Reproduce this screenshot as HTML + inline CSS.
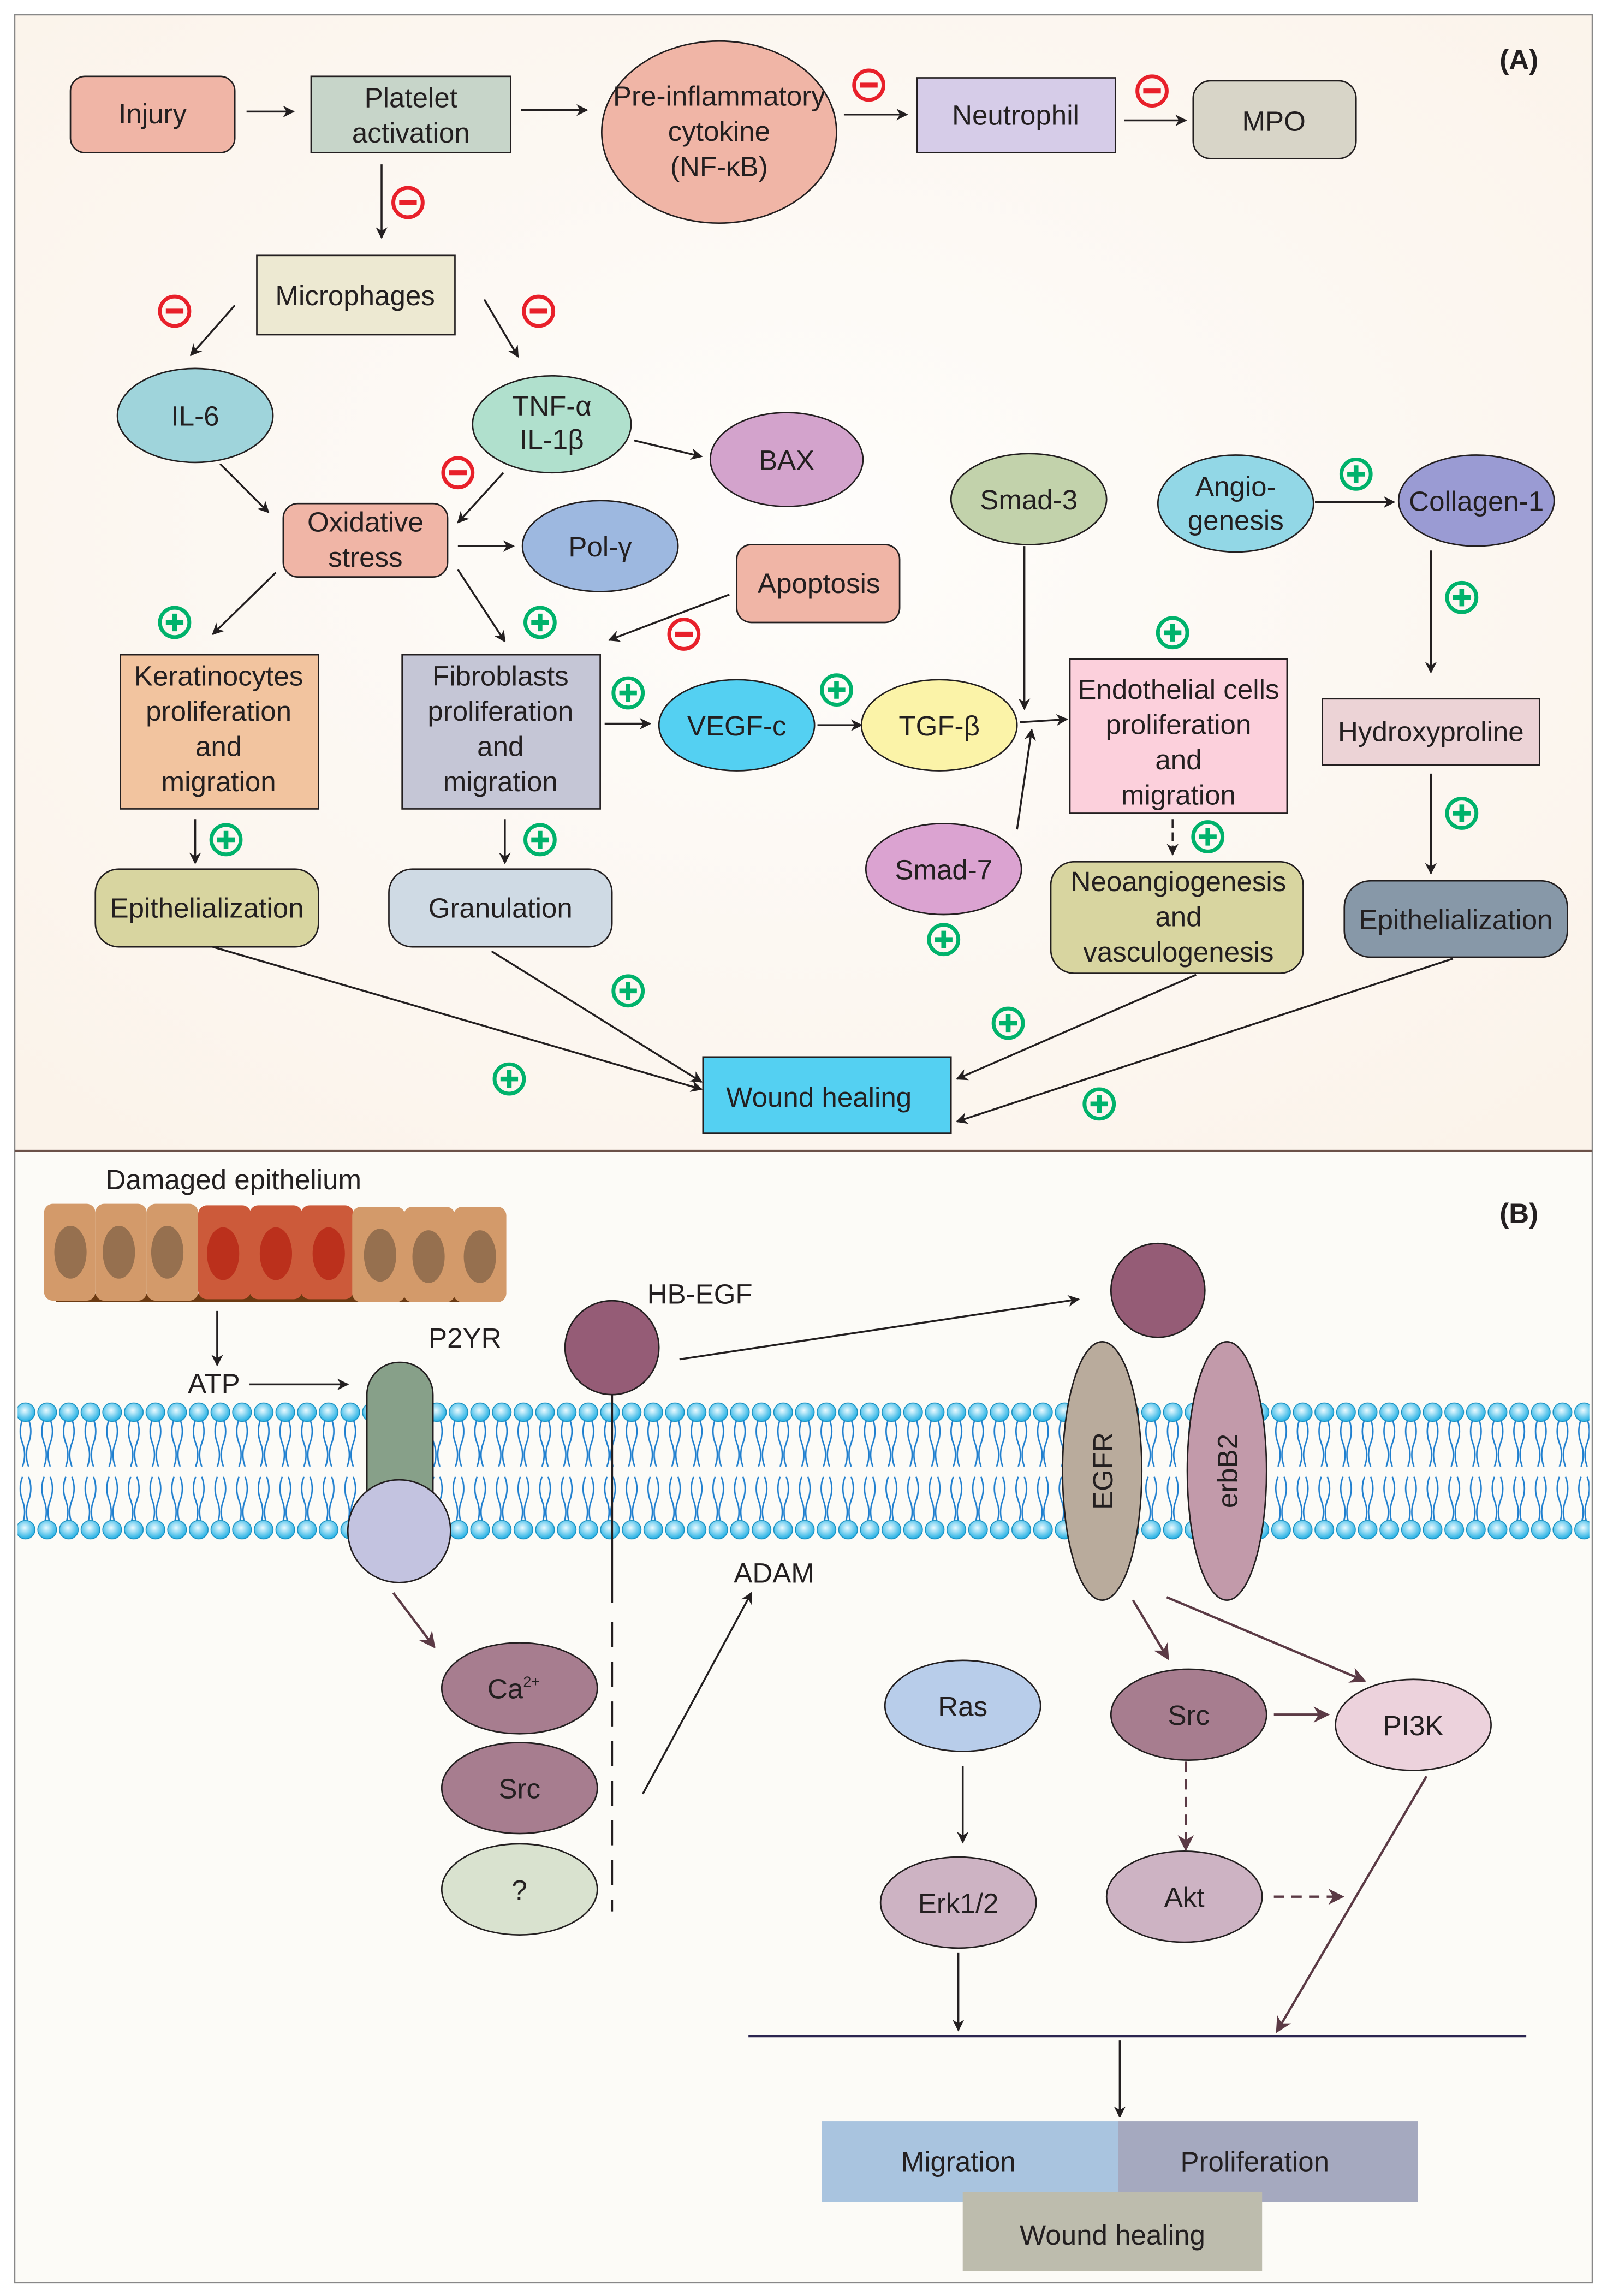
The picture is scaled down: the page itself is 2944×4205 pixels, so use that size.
<!DOCTYPE html>
<html><head><meta charset="utf-8"><style>
html,body{margin:0;padding:0;background:#fff;}
svg{display:block;}
text{font-family:"Liberation Sans",sans-serif;fill:#231f20;}
</style></head><body>
<svg width="2944" height="4205" viewBox="0 0 1095 1564" preserveAspectRatio="none" xmlns="http://www.w3.org/2000/svg">
<defs>
<marker id="ah" viewBox="0 0 10 10" refX="9" refY="5" markerWidth="8" markerHeight="8" markerUnits="userSpaceOnUse" orient="auto"><path d="M0,0 L10,5 L0,10 L3,5 z" fill="#231f20"/></marker>
<marker id="ab" viewBox="0 0 10 10" refX="9" refY="5" markerWidth="11" markerHeight="11" markerUnits="userSpaceOnUse" orient="auto"><path d="M0,0 L10,5 L0,10 L3,5 z" fill="#5b3a45"/></marker>
<radialGradient id="hg" cx="0.45" cy="0.4" r="0.6"><stop offset="0" stop-color="#eafaff"/><stop offset="1" stop-color="#22b0e4"/></radialGradient>
<radialGradient id="bgA" cx="0.5" cy="0.45" r="0.7"><stop offset="0" stop-color="#fefdfb"/><stop offset="1" stop-color="#fbf3ea"/></radialGradient>
<pattern id="mem" x="10" y="950" width="14.75" height="106" patternUnits="userSpaceOnUse">
<path d="M5.3,17 q-3,8 0,16 q3,8 0,16 M9.5,17 q3,8 0,16 q-3,8 0,16 M5.3,56 q-3,8 0,16 q3,8 0,16 M9.5,56 q3,8 0,16 q-3,8 0,16" fill="none" stroke="#1f7fcf" stroke-width="1"/>
<ellipse cx="7.4" cy="12" rx="6.4" ry="6.3" fill="url(#hg)" stroke="#178fc0" stroke-width="0.6"/>
<ellipse cx="7.4" cy="92" rx="6.4" ry="6.3" fill="url(#hg)" stroke="#178fc0" stroke-width="0.6"/>
</pattern>
<g id="plus"><circle r="10" fill="none" stroke="#00b26b" stroke-width="2.6"/><path d="M-6,0 H6 M0,-6 V6" stroke="#00b26b" stroke-width="3.2"/></g>
<g id="minus"><circle r="10" fill="none" stroke="#e8202a" stroke-width="2.6"/><path d="M-6,0 H6" stroke="#e8202a" stroke-width="3.4"/></g>
</defs>

<rect x="0" y="0" width="1095" height="1564" fill="#fff"/>
<rect x="10" y="10" width="1075" height="774" fill="url(#bgA)"/>
<rect x="10" y="784" width="1075" height="771" fill="#fcfbf7"/>
<rect x="10" y="10" width="1075" height="1545" fill="none" stroke="#888" stroke-width="1"/>
<line x1="10" y1="784" x2="1085" y2="784" stroke="#6b5148" stroke-width="1.5"/>

<g font-size="19">
<text x="1035" y="47" font-weight="bold" text-anchor="middle">(A)</text>

<g stroke="#231f20" stroke-width="1" text-anchor="middle">
<rect x="48" y="52" width="112" height="52" rx="10" fill="#f0b5a6"/>
<rect x="212" y="52" width="136" height="52" fill="#c7d5c9"/>
<ellipse cx="490" cy="90" rx="80" ry="62" fill="#f0b5a6"/>
<rect x="625" y="53" width="135" height="51" fill="#d6cce8"/>
<rect x="813" y="55" width="111" height="53" rx="12" fill="#d8d5c8"/>
<rect x="175" y="174" width="135" height="54" fill="#ede9d2"/>
<ellipse cx="133" cy="283" rx="53" ry="32" fill="#9fd4db"/>
<ellipse cx="376" cy="289" rx="54" ry="33" fill="#b0e0cd"/>
<ellipse cx="536" cy="313" rx="52" ry="32" fill="#d3a3cc"/>
<rect x="193" y="343" width="112" height="50" rx="10" fill="#f0b5a6"/>
<ellipse cx="409" cy="372" rx="53" ry="31" fill="#9db8e0"/>
<rect x="502" y="371" width="111" height="53" rx="10" fill="#f0b5a6"/>
<rect x="82" y="446" width="135" height="105" fill="#f2c49f"/>
<rect x="274" y="446" width="135" height="105" fill="#c5c6d6"/>
<ellipse cx="502" cy="494" rx="53" ry="31" fill="#54d0f2"/>
<ellipse cx="640" cy="494" rx="53" ry="31" fill="#fbf3a8"/>
<rect x="729" y="449" width="148" height="105" fill="#fcd0dc"/>
<ellipse cx="701" cy="340" rx="53" ry="31" fill="#c2d2ab"/>
<ellipse cx="643" cy="592" rx="53" ry="31" fill="#dba3d1"/>
<ellipse cx="842" cy="343" rx="53" ry="33" fill="#92d7e6"/>
<ellipse cx="1006" cy="341" rx="53" ry="31" fill="#9a9bd3"/>
<rect x="901" y="476" width="148" height="45" fill="#ecd3d6"/>
<rect x="916" y="600" width="152" height="52" rx="18" fill="#8798a8"/>
<rect x="65" y="592" width="152" height="53" rx="16" fill="#d8d5a0"/>
<rect x="265" y="592" width="152" height="53" rx="16" fill="#cfdae4"/>
<rect x="716" y="587" width="172" height="76" rx="16" fill="#d8d5a0"/>
<rect x="479" y="720" width="169" height="52" fill="#54d0f2"/>
</g>

<g text-anchor="middle">
<text x="104" y="84">Injury</text>
<text x="280" y="73">Platelet</text><text x="280" y="97">activation</text>
<text x="490" y="72">Pre-inflammatory</text><text x="490" y="96">cytokine</text><text x="490" y="120">(NF-κB)</text>
<text x="692" y="85">Neutrophil</text>
<text x="868" y="89">MPO</text>
<text x="242" y="208">Microphages</text>
<text x="133" y="290">IL-6</text>
<text x="376" y="283">TNF-α</text><text x="376" y="306">IL-1β</text>
<text x="536" y="320">BAX</text>
<text x="249" y="362">Oxidative</text><text x="249" y="386">stress</text>
<text x="409" y="379">Pol-γ</text>
<text x="558" y="404">Apoptosis</text>
<text x="149" y="467">Keratinocytes</text><text x="149" y="491">proliferation</text><text x="149" y="515">and</text><text x="149" y="539">migration</text>
<text x="341" y="467">Fibroblasts</text><text x="341" y="491">proliferation</text><text x="341" y="515">and</text><text x="341" y="539">migration</text>
<text x="502" y="501">VEGF-c</text>
<text x="640" y="501">TGF-β</text>
<text x="803" y="476">Endothelial cells</text><text x="803" y="500">proliferation</text><text x="803" y="524">and</text><text x="803" y="548">migration</text>
<text x="701" y="347">Smad-3</text>
<text x="643" y="599">Smad-7</text>
<text x="842" y="338">Angio-</text><text x="842" y="361">genesis</text>
<text x="1006" y="348">Collagen-1</text>
<text x="975" y="505">Hydroxyproline</text>
<text x="992" y="633">Epithelialization</text>
<text x="141" y="625">Epithelialization</text>
<text x="341" y="625">Granulation</text>
<text x="803" y="607">Neoangiogenesis</text><text x="803" y="631">and</text><text x="803" y="655">vasculogenesis</text>
<text x="558" y="754">Wound healing</text>
</g>

<g stroke="#231f20" stroke-width="1.3" fill="none" marker-end="url(#ah)">
<line x1="168" y1="76" x2="200" y2="76"/>
<line x1="355" y1="75" x2="400" y2="75"/>
<line x1="575" y1="78" x2="618" y2="78"/>
<line x1="766" y1="82" x2="808" y2="82"/>
<line x1="260" y1="112" x2="260" y2="162"/>
<line x1="160" y1="208" x2="130" y2="242"/>
<line x1="330" y1="204" x2="353" y2="243"/>
<line x1="432" y1="300" x2="478" y2="311"/>
<line x1="343" y1="322" x2="312" y2="356"/>
<line x1="150" y1="316" x2="183" y2="349"/>
<line x1="312" y1="372" x2="350" y2="372"/>
<line x1="188" y1="390" x2="145" y2="432"/>
<line x1="312" y1="388" x2="344" y2="437"/>
<line x1="497" y1="405" x2="415" y2="436"/>
<line x1="412" y1="493" x2="443" y2="493"/>
<line x1="557" y1="494" x2="587" y2="494"/>
<line x1="695" y1="492" x2="727" y2="490"/>
<line x1="698" y1="372" x2="698" y2="483"/>
<line x1="693" y1="565" x2="703" y2="497"/>
<line x1="896" y1="342" x2="950" y2="342"/>
<line x1="975" y1="375" x2="975" y2="458"/>
<line x1="975" y1="527" x2="975" y2="595"/>
<line x1="133" y1="558" x2="133" y2="588"/>
<line x1="344" y1="558" x2="344" y2="588"/>
<line x1="799" y1="558" x2="799" y2="582" stroke-dasharray="6,3"/>
<line x1="145" y1="645" x2="478" y2="742"/>
<line x1="335" y1="648" x2="478" y2="737"/>
<line x1="815" y1="664" x2="652" y2="735"/>
<line x1="990" y1="653" x2="652" y2="764"/>
</g>

<use href="#minus" x="592" y="58"/><use href="#minus" x="785" y="62"/>
<use href="#minus" x="278" y="138"/><use href="#minus" x="119" y="212"/>
<use href="#minus" x="367" y="212"/><use href="#minus" x="312" y="322"/>
<use href="#minus" x="466" y="432"/>
<use href="#plus" x="119" y="424"/><use href="#plus" x="368" y="424"/>
<use href="#plus" x="428" y="472"/><use href="#plus" x="570" y="470"/>
<use href="#plus" x="799" y="431"/><use href="#plus" x="924" y="323"/>
<use href="#plus" x="996" y="407"/><use href="#plus" x="996" y="554"/>
<use href="#plus" x="154" y="572"/><use href="#plus" x="368" y="572"/>
<use href="#plus" x="823" y="570"/><use href="#plus" x="643" y="640"/>
<use href="#plus" x="347" y="735"/><use href="#plus" x="428" y="675"/>
<use href="#plus" x="687" y="697"/><use href="#plus" x="749" y="752"/>

<!-- Panel B -->
<text x="1035" y="833" font-weight="bold" text-anchor="middle">(B)</text>
<text x="72" y="810">Damaged epithelium</text>

<rect x="38" y="881" width="303" height="6" fill="#6b3a12"/>
<g stroke="none">
<rect x="30" y="820" width="35" height="66" rx="6" fill="#d39a6a"/>
<rect x="65" y="820" width="35" height="66" rx="6" fill="#d39a6a"/>
<rect x="100" y="820" width="35" height="66" rx="6" fill="#d39a6a"/>
<rect x="135" y="821" width="36" height="64" rx="6" fill="#cc5a3a"/>
<rect x="170" y="821" width="36" height="64" rx="6" fill="#cc5a3a"/>
<rect x="205" y="821" width="36" height="64" rx="6" fill="#cc5a3a"/>
<rect x="240" y="822" width="36" height="65" rx="6" fill="#d39a6a"/>
<rect x="275" y="822" width="35" height="65" rx="6" fill="#d39a6a"/>
<rect x="309" y="822" width="36" height="65" rx="6" fill="#d39a6a"/>
<ellipse cx="48" cy="853" rx="11" ry="18" fill="#96704f"/>
<ellipse cx="81" cy="853" rx="11" ry="18" fill="#96704f"/>
<ellipse cx="114" cy="853" rx="11" ry="18" fill="#96704f"/>
<ellipse cx="152" cy="854" rx="11" ry="18" fill="#bb301c"/>
<ellipse cx="188" cy="854" rx="11" ry="18" fill="#bb301c"/>
<ellipse cx="224" cy="854" rx="11" ry="18" fill="#bb301c"/>
<ellipse cx="259" cy="855" rx="11" ry="18" fill="#96704f"/>
<ellipse cx="292" cy="856" rx="11" ry="18" fill="#96704f"/>
<ellipse cx="327" cy="856" rx="11" ry="18" fill="#96704f"/>
</g>

<g stroke="#231f20" stroke-width="1.3" fill="none" marker-end="url(#ah)">
<line x1="148" y1="893" x2="148" y2="930"/>
<line x1="170" y1="943" x2="237" y2="943"/>
<line x1="463" y1="926" x2="735" y2="885"/>
<line x1="438" y1="1222" x2="512" y2="1085"/>
<line x1="656" y1="1203" x2="656" y2="1255"/>
<line x1="653" y1="1330" x2="653" y2="1383"/>
<line x1="763" y1="1390" x2="763" y2="1442"/>
</g>
<text x="128" y="949">ATP</text>
<text x="292" y="918">P2YR</text>
<text x="441" y="888">HB-EGF</text>
<text x="500" y="1078">ADAM</text>

<rect x="12" y="950" width="1071" height="106" fill="url(#mem)"/>

<g stroke="#231f20" stroke-width="1">
<rect x="250" y="928" width="45" height="110" rx="22" fill="#87a089"/>
<circle cx="272" cy="1043" r="35" fill="#c3c3e0"/>
<circle cx="417" cy="918" r="32" fill="#955c76"/>
<circle cx="789" cy="879" r="32" fill="#955c76"/>
<ellipse cx="751" cy="1002" rx="27" ry="88" fill="#b9ab9c"/>
<ellipse cx="836" cy="1002" rx="27" ry="88" fill="#c29aaa"/>
<ellipse cx="354" cy="1150" rx="53" ry="31" fill="#a77d8f"/>
<ellipse cx="354" cy="1218" rx="53" ry="31" fill="#a77d8f"/>
<ellipse cx="354" cy="1287" rx="53" ry="31" fill="#d9e2cf"/>
<ellipse cx="656" cy="1162" rx="53" ry="31" fill="#b8cdea"/>
<ellipse cx="653" cy="1296" rx="53" ry="31" fill="#cdb3c3"/>
<ellipse cx="810" cy="1168" rx="53" ry="31" fill="#a77d8f"/>
<ellipse cx="963" cy="1175" rx="53" ry="31" fill="#ecd2dc"/>
<ellipse cx="807" cy="1292" rx="53" ry="31" fill="#cdb3c3"/>
</g>
<line x1="417" y1="950" x2="417" y2="1092" stroke="#231f20" stroke-width="1.5"/>
<line x1="417" y1="1105" x2="417" y2="1302" stroke="#231f20" stroke-width="1.5" stroke-dasharray="17,10"/>

<text transform="translate(758,1002) rotate(-90)" text-anchor="middle">EGFR</text>
<text transform="translate(843,1002) rotate(-90)" text-anchor="middle">erbB2</text>
<g text-anchor="middle">
<text x="350" y="1157">Ca<tspan font-size="10" dy="-8">2+</tspan></text>
<text x="354" y="1225">Src</text>
<text x="354" y="1294">?</text>
<text x="656" y="1169">Ras</text>
<text x="653" y="1303">Erk1/2</text>
<text x="810" y="1175">Src</text>
<text x="963" y="1182">PI3K</text>
<text x="807" y="1299">Akt</text>
</g>

<g stroke="#5b3a45" stroke-width="1.6" fill="none" marker-end="url(#ab)">
<line x1="268" y1="1085" x2="296" y2="1122"/>
<line x1="772" y1="1090" x2="796" y2="1130"/>
<line x1="795" y1="1088" x2="930" y2="1145"/>
<line x1="868" y1="1168" x2="905" y2="1168"/>
<line x1="808" y1="1200" x2="808" y2="1260" stroke-dasharray="7,5"/>
<line x1="868" y1="1292" x2="915" y2="1292" stroke-dasharray="7,5"/>
<line x1="972" y1="1210" x2="870" y2="1384"/>
</g>
<line x1="510" y1="1387" x2="1040" y2="1387" stroke="#2b2550" stroke-width="1.6"/>

<rect x="560" y="1445" width="202" height="55" fill="#a9c4df"/>
<rect x="762" y="1445" width="204" height="55" fill="#a5a9bf"/>
<rect x="656" y="1493" width="204" height="54" fill="#bdbcad"/>
<g text-anchor="middle" fill="#333">
<text x="653" y="1479">Migration</text>
<text x="855" y="1479">Proliferation</text>
<text x="758" y="1529">Wound healing</text>
</g>
</g>
</svg>
</body></html>
